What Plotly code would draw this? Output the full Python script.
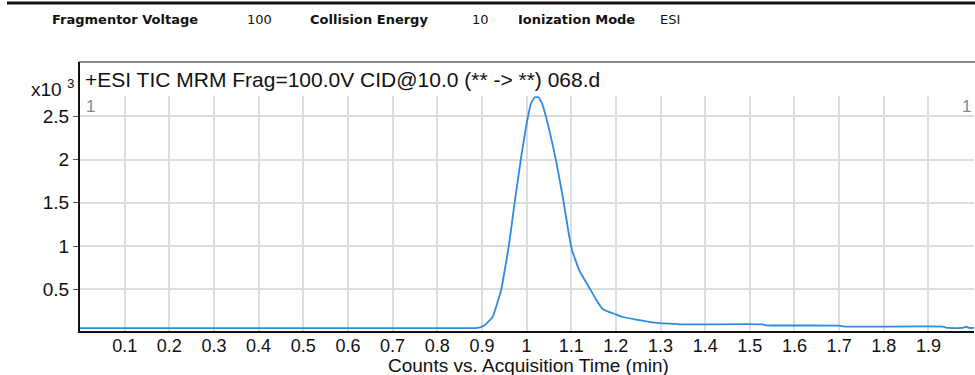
import plotly.graph_objects as go

# Data (counts x10^3 vs acquisition time, min)
time_min = [0.0, 0.2, 0.4, 0.6, 0.8, 0.891, 0.906, 0.924, 0.943, 0.960, 0.973, 0.988,
            0.999, 1.010, 1.018, 1.027, 1.036, 1.051, 1.066, 1.081, 1.096, 1.102,
            1.118, 1.137, 1.156, 1.171, 1.200, 1.215, 1.245, 1.268, 1.297, 1.335,
            1.342, 1.529, 1.536, 1.700, 1.712, 1.932, 1.943, 1.977, 1.984, 1.992, 2.002]
counts_k = [0.052, 0.052, 0.052, 0.052, 0.052, 0.053, 0.084, 0.18, 0.49, 0.99, 1.49, 2.03,
            2.38, 2.65, 2.72, 2.72, 2.63, 2.34, 1.99, 1.57, 1.10, 0.95,
            0.72, 0.55, 0.38, 0.27, 0.21, 0.18, 0.15, 0.13, 0.11, 0.10,
            0.095, 0.095, 0.084, 0.08, 0.069, 0.069, 0.053, 0.053, 0.069, 0.053, 0.053]

x_ticks = [0.1, 0.2, 0.3, 0.4, 0.5, 0.6, 0.7, 0.8, 0.9, 1.0, 1.1, 1.2, 1.3, 1.4, 1.5, 1.6, 1.7, 1.8, 1.9]
x_tick_labels = ["0.1", "0.2", "0.3", "0.4", "0.5", "0.6", "0.7", "0.8", "0.9", "1",
                 "1.1", "1.2", "1.3", "1.4", "1.5", "1.6", "1.7", "1.8", "1.9"]
y_ticks = [0.5, 1.0, 1.5, 2.0, 2.5]
y_tick_labels = ["0.5", "1", "1.5", "2", "2.5"]

header_labels = ["Fragmentor Voltage", "Collision Energy", "Ionization Mode"]
header_values = ["100", "10", "ESI"]

title_text = "+ESI TIC MRM Frag=100.0V CID@10.0 (** -> **) 068.d"
x_title = "Counts vs. Acquisition Time (min)"

W, H = 975, 375
L, R, T, B = 80, 974, 96, 331


def px(x):
    return (x - L) / (R - L)


def py(y):
    return (B - y) / (B - T)


fig = go.Figure()
fig.add_trace(go.Scatter(x=time_min, y=counts_k, mode="lines", line_shape="spline",
                         line=dict(color="#2f8be0", width=1.8, smoothing=0.3), hoverinfo="skip"))

chart_font = "Liberation Sans, Arial, sans-serif"
head_font = "DejaVu Sans, Verdana, sans-serif"

fig.update_layout(
    width=W, height=H,
    margin=dict(l=L, r=W - R, t=T, b=H - B, autoexpand=False),
    paper_bgcolor="white", plot_bgcolor="white",
    showlegend=False,
    xaxis=dict(range=[0, 2.002], tickvals=x_ticks, ticktext=x_tick_labels,
               automargin=False,
               showgrid=True, gridcolor="#dcdcdc", gridwidth=1.5,
               showline=True, linecolor="#111", linewidth=2,
               ticks="", ticklabelstandoff=-3,
               tickfont=dict(family=chart_font, size=18, color="#111"),
               zeroline=False),
    yaxis=dict(range=[0.018, 2.735], tickvals=y_ticks, ticktext=y_tick_labels,
               automargin=False,
               showgrid=True, gridcolor="#dcdcdc", gridwidth=1.5,
               showline=True, linecolor="#111", linewidth=2,
               ticks="outside", ticklen=5, tickcolor="#555",
               tickfont=dict(family=chart_font, size=19, color="#111"),
               zeroline=False),
)

shapes = [
    # header rule
    dict(type="line", xref="paper", yref="paper", x0=px(7), x1=px(975), y0=py(3), y1=py(3),
         line=dict(color="#111", width=3)),
    # title box top border
    dict(type="line", xref="paper", yref="paper", x0=px(79), x1=px(975), y0=py(62), y1=py(62),
         line=dict(color="#888", width=2)),
    # left axis extension
    dict(type="line", xref="paper", yref="paper", x0=px(79), x1=px(79), y0=1, y1=py(62),
         line=dict(color="#111", width=2)),
]
fig.update_layout(shapes=shapes)

ann = []
label_x = [50, 308, 516]
value_x = [245, 470, 658]
for lx, lab in zip(label_x, header_labels):
    ann.append(dict(x=px(lx), y=py(19), xref="paper", yref="paper", text="<b>" + lab + "</b>",
                    showarrow=False, xanchor="left", yanchor="middle",
                    font=dict(family=head_font, size=13, color="#111")))
for vx, val in zip(value_x, header_values):
    ann.append(dict(x=px(vx), y=py(19), xref="paper", yref="paper", text=val,
                    showarrow=False, xanchor="left", yanchor="middle",
                    font=dict(family=head_font, size=13, color="#111")))
ann.append(dict(x=px(83), y=py(79), xref="paper", yref="paper", text=title_text,
                showarrow=False, xanchor="left", yanchor="middle",
                font=dict(family=chart_font, size=21, color="#111")))
ann.append(dict(x=px(76), y=py(88), xref="paper", yref="paper", text="x10 <sup>3</sup>",
                showarrow=False, xanchor="right", yanchor="middle",
                font=dict(family=chart_font, size=19, color="#111")))
ann.append(dict(x=px(84), y=py(107), xref="paper", yref="paper", text="1",
                showarrow=False, xanchor="left", yanchor="middle",
                font=dict(family=chart_font, size=17, color="#888")))
ann.append(dict(x=px(973), y=py(107), xref="paper", yref="paper", text="1",
                showarrow=False, xanchor="right", yanchor="middle",
                font=dict(family=chart_font, size=17, color="#888")))
ann.append(dict(x=px(528), y=py(365), xref="paper", yref="paper", text=x_title,
                showarrow=False, xanchor="center", yanchor="middle",
                font=dict(family=chart_font, size=19, color="#111")))
fig.update_layout(annotations=ann)

fig.write_html("out.html", config={"displayModeBar": False},
               post_script="document.body.style.margin='0';")
